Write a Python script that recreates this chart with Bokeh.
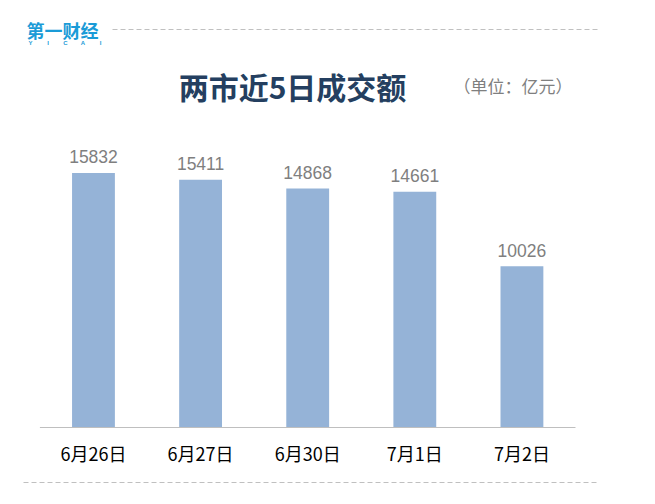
from bokeh.plotting import figure
from bokeh.models import ColumnDataSource, Label, Arrow, Range1d, FixedTicker
from bokeh.layouts import column
from bokeh.core.properties import value
from bokeh.embed import file_html
from bokeh.resources import INLINE

categories = ["6月26日", "6月27日", "6月30日", "7月1日", "7月2日"]
turnover = [15832, 15411, 14868, 14661, 10026]
value_labels = [str(v) for v in turnover]
title_text = "两市近5日成交额"
unit_text = "（单位：亿元）"
logo_text = "第一财经"
logo_sub = ["Y", "I", "C", "A", "I"]

W = 655
HEAD_H, CHART_H, FOOT_H = 128, 351, 25


def blank(h):
    f = figure(width=W, height=h, output_backend="svg", toolbar_location=None,
               x_axis_location=None, y_axis_location=None,
               x_range=Range1d(0, 1), y_range=Range1d(0, 1),
               min_border_left=0, min_border_right=0, min_border_top=0, min_border_bottom=0)
    f.outline_line_color = None
    f.xgrid.grid_line_color = None
    f.ygrid.grid_line_color = None
    return f


def lab(f, x, y, t, size, color, bold=False, font="Noto Sans CJK SC", align="center"):
    f.add_layout(Label(x=x, y=y, x_units="screen", y_units="screen", text=t,
                       text_font=font, text_font_size=size, text_color=color,
                       text_font_style="bold" if bold else "normal",
                       text_align=align, text_baseline="middle"))


def dashed(f, x0, x1, y):
    f.add_layout(Arrow(end=None, x_start=x0, y_start=y, x_end=x1, y_end=y,
                       start_units="screen", end_units="screen",
                       line_color="#c0c0c0", line_width=1, line_dash="5 3"))


# header
head = blank(HEAD_H)
lab(head, 292, 43, title_text, "30px", "#243f60", bold=True)
lab(head, 453, 43, unit_text, "17px", "#7f7f7f", align="left")
lab(head, 26, 99, logo_text, "18px", "#1a9bd7", bold=True, align="left")
for i, ch in enumerate(logo_sub):
    lab(head, 30 + i * 17.5, 86, ch, "6px", "#1a9bd7", bold=True, align="center", font="Liberation Sans")
dashed(head, 112, 598, 99)

# chart
idx = list(range(len(categories)))
src = ColumnDataSource(dict(x=idx, v=turnover, lab=value_labels))
p = figure(x_range=Range1d(-0.868, 5.247), y_range=Range1d(-124, 18595), width=W, height=CHART_H,
           output_backend="svg", toolbar_location=None, y_axis_location=None,
           min_border_left=0, min_border_right=0, min_border_top=0, min_border_bottom=50)
p.outline_line_color = None
p.xgrid.grid_line_color = None
p.ygrid.grid_line_color = None

p.vbar(x="x", top="v", width=0.4, source=src, color="#95b3d7", line_color=None)
p.text(x="x", y="v", text="lab", source=src, text_align="center", text_baseline="middle",
       y_offset=-16, text_font=value("Liberation Sans"), text_font_size="17.5px", text_color="#7f7f7f")
# category axis baseline spanning the category slots
p.segment(x0=[idx[0] - 0.5], y0=[0], x1=[idx[-1] + 0.5], y1=[0], line_color="#bfbfbf", line_width=1)

ax = p.xaxis[0]
ax.ticker = FixedTicker(ticks=idx)
ax.major_label_overrides = {i: c for i, c in zip(idx, categories)}
ax.axis_line_color = None
ax.major_tick_line_color = None
ax.minor_tick_line_color = None
ax.major_tick_out = 0
ax.major_tick_in = 0
ax.minor_tick_out = 0
ax.minor_tick_in = 0
ax.major_label_text_font = "Noto Sans CJK SC"
ax.major_label_text_font_size = "18px"
ax.major_label_text_color = "#000000"
ax.major_label_standoff = 10

# footer
foot = blank(FOOT_H)
dashed(foot, 23, 599, 22)

layout = column(head, p, foot, spacing=0)
open("out.html", "w").write(file_html(layout, INLINE))
